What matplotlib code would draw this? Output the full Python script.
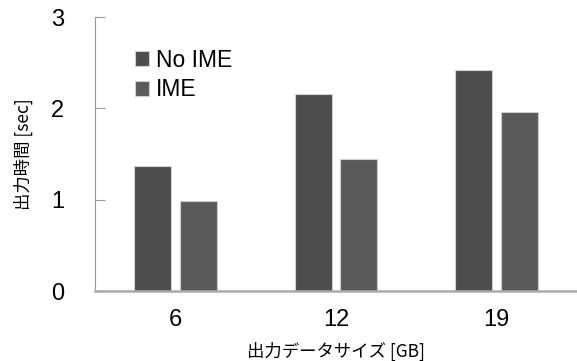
import numpy as np
import matplotlib
matplotlib.use("Agg")
import matplotlib.pyplot as plt

plt.rcParams['font.family'] = ['Liberation Sans', 'Noto Sans CJK JP', 'DejaVu Sans']

categories = ["6", "12", "19"]
no_ime = [1.37, 2.16, 2.42]
ime = [0.98, 1.44, 1.96]

fig = plt.figure(figsize=(5.77, 3.61), dpi=100)
ax = fig.add_axes([95/577, 1 - 291/361, 1 - 95/577, (291 - 17)/361])

x = np.arange(len(categories))
w = 0.23
off = 0.143
ax.bar(x - off, no_ime, w, color="#4d4d4d", edgecolor="#d0d0d0", linewidth=0.8, label="No IME")
ax.bar(x + off, ime, w, color="#5a5a5a", edgecolor="#d0d0d0", linewidth=0.8, label="IME")

ax.set_xlim(-0.5, 2.5)
ax.set_ylim(0, 3)
ax.set_yticks([0, 1, 2, 3])
ax.set_xticks(x)
ax.set_xticklabels(categories)
ax.tick_params(axis="y", direction="in", length=7, color="#999999", pad=22, labelsize=17)
ax.tick_params(axis="x", length=0, pad=13, labelsize=17)

for s in ["top", "right"]:
    ax.spines[s].set_visible(False)
ax.spines["left"].set_color("#999999")
ax.spines["bottom"].set_color("#aaaaaa")
ax.spines["bottom"].set_linewidth(1.8)

cjk = ['Noto Sans CJK JP', 'DejaVu Sans']
ax.set_xlabel("出力データサイズ [GB]", family=cjk, fontsize=12.5, labelpad=8)
ax.set_ylabel("出力時間 [sec]", family=cjk, fontsize=12.5, labelpad=13)

ax.legend(loc="upper left", bbox_to_anchor=(0.04, 0.96), frameon=False, fontsize=16.5,
          handlelength=0.6, handleheight=0.6, handletextpad=0.3, labelspacing=0.3)

fig.savefig("out.png", dpi=100)
